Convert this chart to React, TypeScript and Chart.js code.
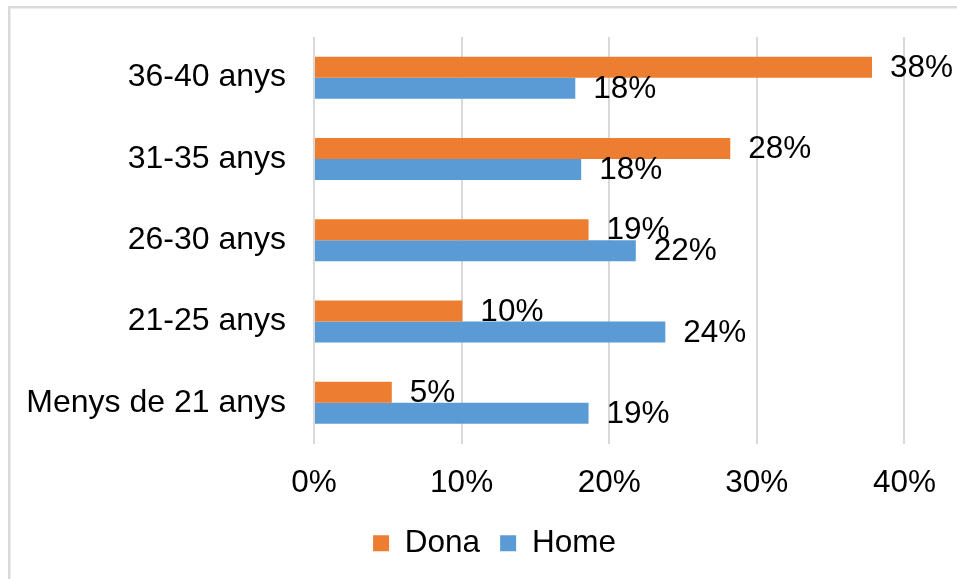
import React, { useEffect, useRef } from "react";
import { Chart, registerables } from "chart.js";

Chart.register(...registerables);

const categories = ["36-40 anys", "31-35 anys", "26-30 anys", "21-25 anys", "Menys de 21 anys"];
const seriesNames = ["Dona", "Home"];
const donaValues = [37.8, 28.2, 18.6, 10.05, 5.27];
const homeValues = [17.7, 18.1, 21.8, 23.8, 18.6];
const xTickValues = [0, 10, 20, 30, 40];

const FONT = "'Liberation Sans', Arial, sans-serif";
const ORANGE = "#ED7D31";
const BLUE = "#5B9BD5";
const GRID = "#d9d9d9";

const borderPlugin = {
  id: "frameBorder",
  beforeDraw(chart: any) {
    const ctx = chart.ctx;
    ctx.save();
    ctx.fillStyle = "#ffffff";
    ctx.fillRect(0, 0, chart.width, chart.height);
    ctx.fillStyle = GRID;
    ctx.fillRect(8, 6, 2.5, chart.height);
    ctx.fillRect(8, 6, chart.width, 2.5);
    ctx.restore();
  },
};

const labelPlugin = {
  id: "valueLabels",
  afterDatasetsDraw(chart: any) {
    const ctx = chart.ctx;
    ctx.save();
    ctx.font = `31.5px ${FONT}`;
    ctx.fillStyle = "#000000";
    ctx.textAlign = "left";
    ctx.textBaseline = "middle";
    chart.data.datasets.forEach((ds: any, di: number) => {
      const meta = chart.getDatasetMeta(di);
      meta.data.forEach((bar: any, i: number) => {
        const v = ds.data[i];
        ctx.fillText(Math.round(v) + "%", bar.x + 18, bar.y + 1);
      });
    });
    ctx.restore();
  },
};

export default function App() {
  const ref = useRef<HTMLCanvasElement | null>(null);

  useEffect(() => {
    if (!ref.current) return;
    const chart = new Chart(ref.current, {
      type: "bar",
      data: {
        labels: categories,
        datasets: [
          { label: seriesNames[0], data: donaValues, backgroundColor: ORANGE, yAxisID: "y" },
          { label: seriesNames[1], data: homeValues, backgroundColor: BLUE, yAxisID: "y" },
        ],
      },
      options: {
        indexAxis: "y",
        animation: false,
        responsive: false,
        devicePixelRatio: 1,
        datasets: { bar: { categoryPercentage: 0.517, barPercentage: 1 } },
        layout: { padding: { left: 0, right: -32, top: 37, bottom: 10 } },
        scales: {
          x: {
            type: "linear",
            min: 0,
            max: 40,
            afterBuildTicks: (s: any) => {
              s.ticks = xTickValues.map((v) => ({ value: v }));
            },
            afterFit: (s: any) => {
              s.height = 64;
            },
            grid: { color: GRID, lineWidth: 2, drawTicks: false },
            border: { display: false },
            ticks: {
              padding: 21,
              color: "#000",
              font: { family: FONT, size: 31.5 },
              callback: (v: any) => v + "%",
            },
          },
          y: {
            type: "category",
            afterFit: (s: any) => {
              s.width = 314;
            },
            grid: { display: false, drawTicks: true, tickLength: 28 },
            border: { display: false },
            ticks: {
              padding: 0,
              color: "#000",
              font: { family: FONT, size: 32 },
            },
          },
          y2: {
            type: "category",
            position: "right",
            labels: categories,
            afterFit: (s: any) => {
              s.width = 81;
            },
            grid: { display: false, drawTicks: false },
            border: { display: false },
            ticks: { display: false },
          },
        },
        plugins: {
          legend: {
            position: "bottom",
            labels: {
              boxWidth: 16,
              boxHeight: 16,
              padding: 20,
              color: "#000",
              font: { family: FONT, size: 31.5 },
            },
          },
          tooltip: { enabled: false },
        },
      },
      plugins: [borderPlugin, labelPlugin],
    } as any);
    return () => chart.destroy();
  }, []);

  return (
    <canvas
      ref={ref}
      width={957}
      height={579}
      style={{ position: "fixed", left: 0, top: 0, width: 957, height: 579 }}
    />
  );
}
